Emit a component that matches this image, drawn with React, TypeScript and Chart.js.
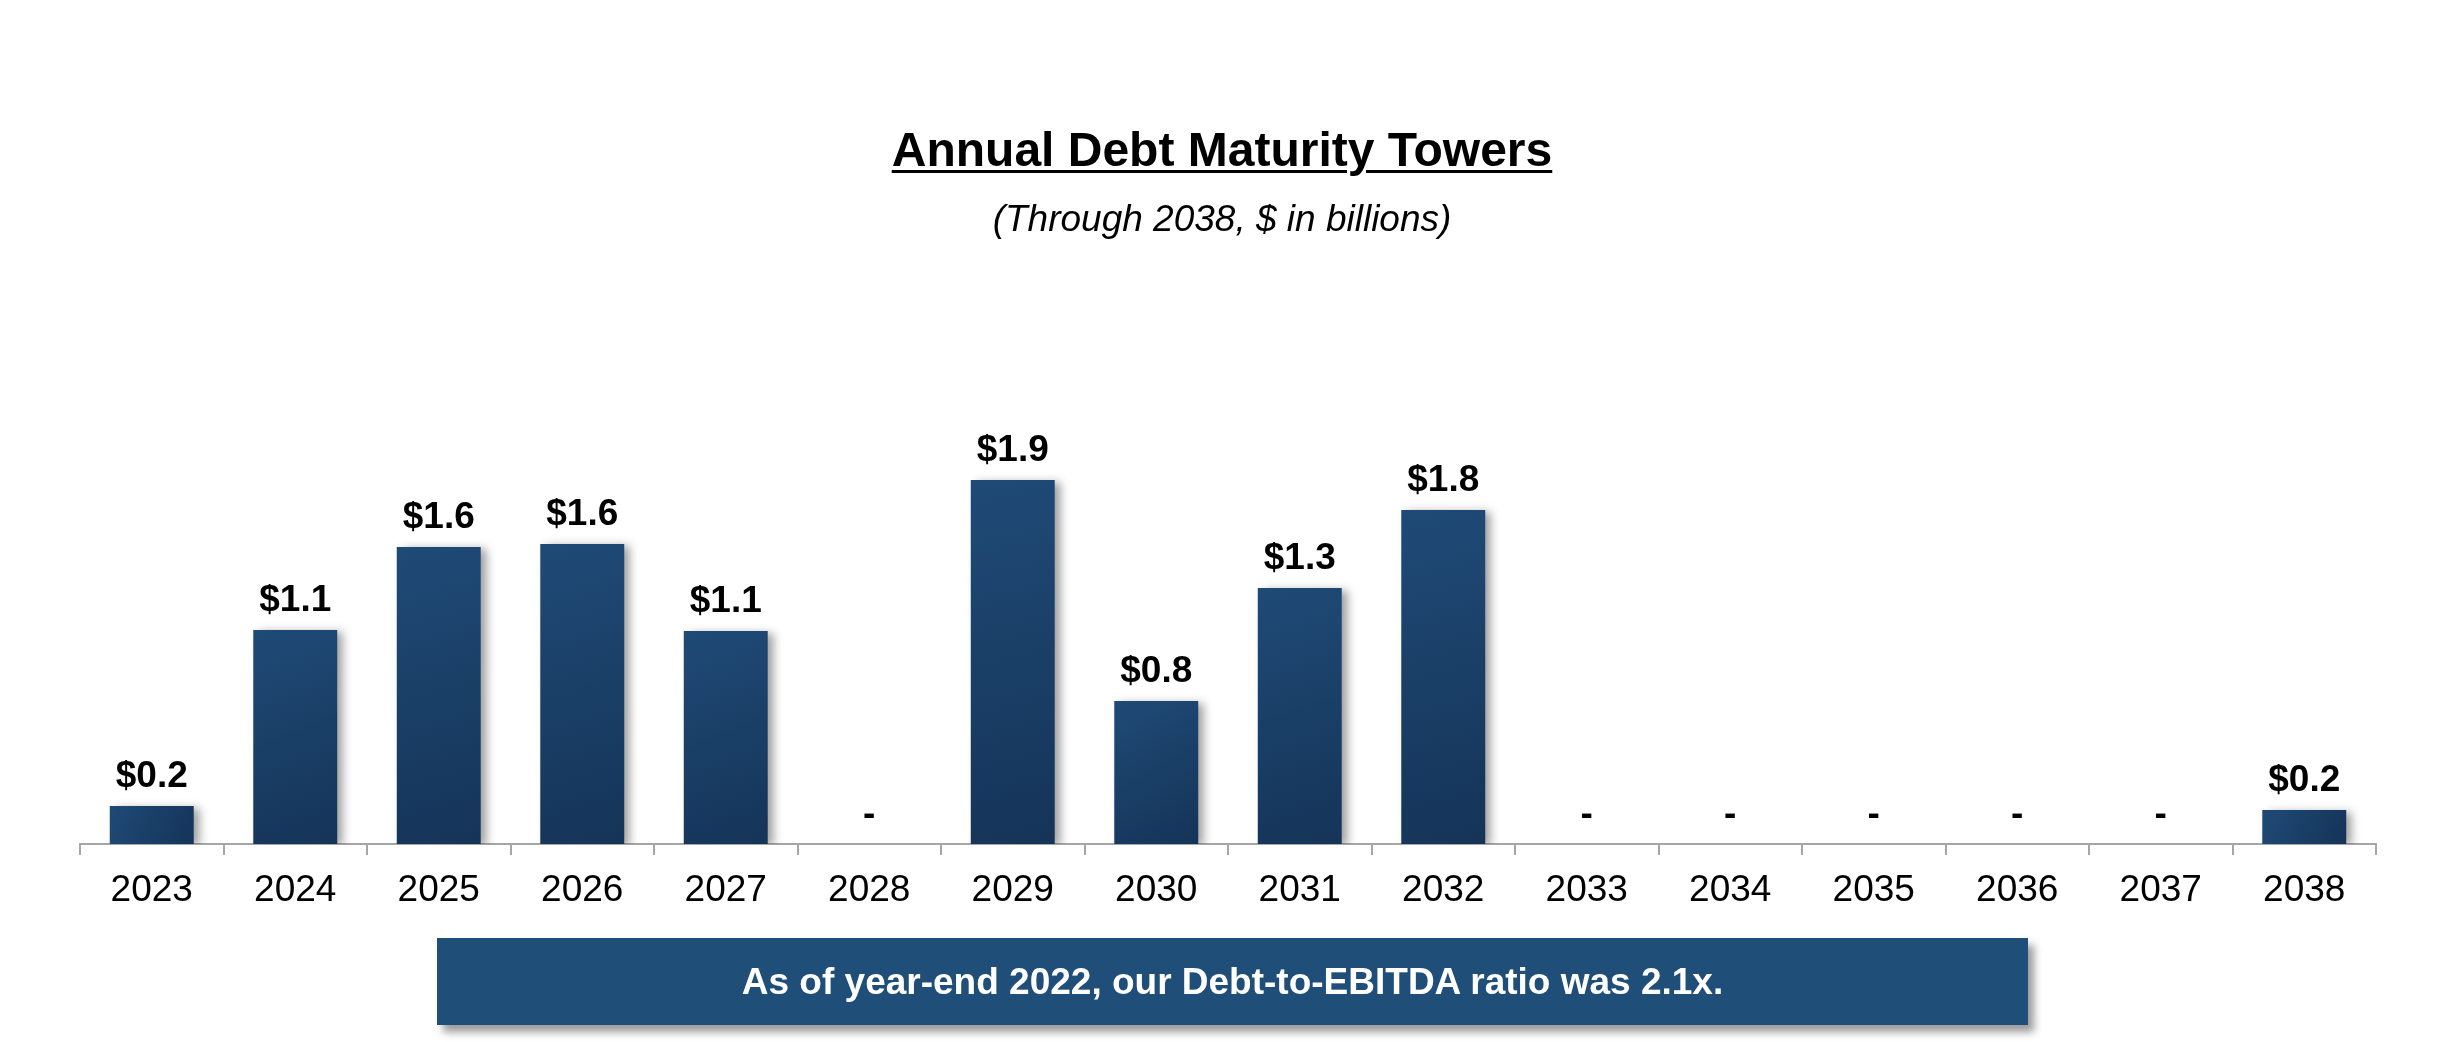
import React, { useEffect, useRef } from "react";
import { Chart, registerables } from "chart.js";

Chart.register(...registerables);

const years = ["2023","2024","2025","2026","2027","2028","2029","2030","2031","2032","2033","2034","2035","2036","2037","2038"];
const maturities = [0.2, 1.125, 1.561, 1.577, 1.12, 0, 1.914, 0.752, 1.346, 1.756, 0, 0, 0, 0, 0, 0.179];
const titleText = "Annual Debt Maturity Towers";
const subtitleText = "(Through 2038, $ in billions)";
const noteText = "As of year-end 2022, our Debt-to-EBITDA ratio was 2.1x.";

const FONT = '"Liberation Sans", Arial, Helvetica, sans-serif';

export default function App() {
  const canvasRef = useRef<HTMLCanvasElement | null>(null);

  useEffect(() => {
    const canvas = canvasRef.current;
    if (!canvas) return;

    const shadowPlugin = {
      id: "barShadow",
      beforeDatasetsDraw(chart: any) {
        const ctx = chart.ctx;
        ctx.save();
        ctx.shadowColor = "rgba(0,0,0,0.38)";
        ctx.shadowBlur = 9;
        ctx.shadowOffsetX = 6;
        ctx.shadowOffsetY = 2;
      },
      afterDatasetsDraw(chart: any) {
        chart.ctx.restore();
      },
    };

    const labelPlugin = {
      id: "valueLabels",
      afterDatasetsDraw(chart: any) {
        const ctx = chart.ctx;
        const meta = chart.getDatasetMeta(0);
        ctx.save();
        ctx.font = `bold 37px ${FONT}`;
        ctx.fillStyle = "#000000";
        ctx.textAlign = "center";
        ctx.textBaseline = "alphabetic";
        meta.data.forEach((el: any, i: number) => {
          const v = maturities[i];
          const txt = v > 0 ? `$${v.toFixed(1)}` : "-";
          ctx.fillText(txt, el.x, el.y - 19);
        });
        ctx.restore();
      },
    };

    const chart = new Chart(canvas, {
      type: "bar",
      data: {
        labels: years,
        datasets: [
          {
            data: maturities,
            borderWidth: 0,
            barPercentage: 0.585,
            categoryPercentage: 1,
            backgroundColor: (c: any) => {
              const ch = c.chart;
              if (!ch.chartArea || c.type !== "data") return "#1b426b";
              const xs = ch.scales.x;
              const ys = ch.scales.y;
              const x = xs.getPixelForValue(c.dataIndex);
              const top = ys.getPixelForValue(c.raw);
              const base = ys.getPixelForValue(0);
              const half = 42;
              const g = ch.ctx.createLinearGradient(x - half, top, x + half, Math.max(base, top + 1));
              g.addColorStop(0, "#1f4a76");
              g.addColorStop(1, "#153458");
              return g;
            },
          },
        ],
      },
      options: {
        responsive: false,
        animation: false,
        devicePixelRatio: 1,
        layout: { padding: { top: 368.5, left: 80, right: 78, bottom: 116 } },
        plugins: {
          legend: { display: false },
          tooltip: { enabled: false },
          title: { display: false },
        },
        scales: {
          x: {
            type: "category",
            offset: true,
            grid: {
              offset: true,
              drawOnChartArea: false,
              drawTicks: true,
              tickLength: 11,
              color: "#a6a6a6",
              lineWidth: 2,
            },
            border: { display: true, color: "#a6a6a6", width: 2 },
            ticks: {
              color: "#000000",
              font: { size: 37, family: FONT },
              padding: 13.3,
              maxRotation: 0,
              autoSkip: false,
            },
          },
          y: {
            display: false,
            min: 0,
            max: 2.5,
          },
        },
      },
      plugins: [shadowPlugin, labelPlugin],
    });

    return () => {
      chart.destroy();
    };
  }, []);

  return (
    <div
      style={{
        position: "fixed",
        left: 0,
        top: 0,
        width: 2454,
        height: 1042,
        background: "#ffffff",
        overflow: "hidden",
        fontFamily: FONT,
      }}
    >
      <canvas
        ref={canvasRef}
        width={2454}
        height={1042}
        style={{ position: "absolute", left: 0, top: 0, width: 2454, height: 1042 }}
      />
      <div
        style={{
          position: "absolute",
          left: 0,
          top: 126,
          width: 2444,
          textAlign: "center",
          fontSize: 48,
          lineHeight: "48px",
          fontWeight: "bold",
          color: "#000",
        }}
      >
        <span
          style={{
            textDecoration: "underline",
            textDecorationThickness: "3px",
            textUnderlineOffset: "4px",
          }}
        >
          {titleText}
        </span>
      </div>
      <div
        style={{
          position: "absolute",
          left: 0,
          top: 200,
          width: 2444,
          textAlign: "center",
          fontSize: 37,
          lineHeight: "37px",
          fontStyle: "italic",
          color: "#000",
        }}
      >
        {subtitleText}
      </div>
      <div
        style={{
          position: "absolute",
          left: 437,
          top: 938,
          width: 1591,
          height: 87,
          background: "#1f4e79",
          boxShadow: "6px 7px 8px rgba(0,0,0,0.4)",
          color: "#ffffff",
          fontWeight: "bold",
          fontSize: 37,
          display: "flex",
          alignItems: "center",
          justifyContent: "center",
        }}
      >
        {noteText}
      </div>
    </div>
  );
}
